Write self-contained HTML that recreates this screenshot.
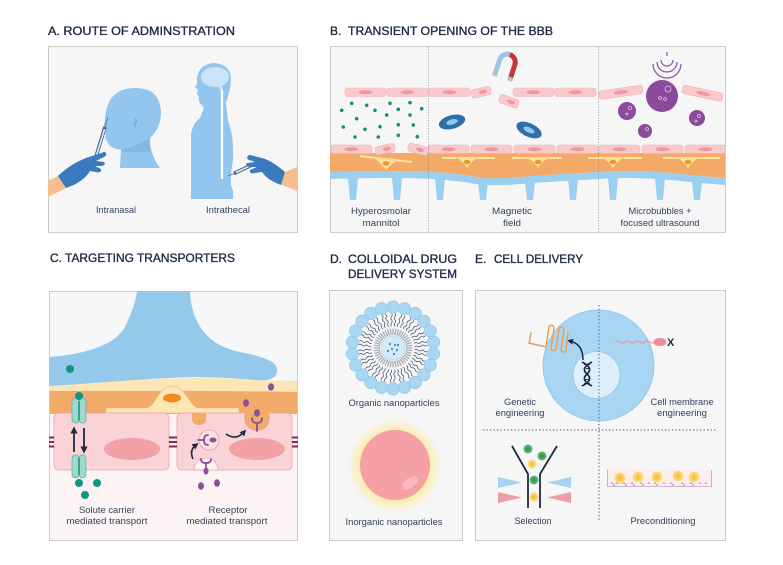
<!DOCTYPE html>
<html><head><meta charset="utf-8"><style>
html,body{margin:0;padding:0;background:#fff;}
svg{display:block;}
text{font-family:"Liberation Sans",Arial,sans-serif;}
.t{font-size:12px;fill:#1E2A44;stroke:#1E2A44;stroke-width:0.35;}
.l{font-size:9.5px;fill:#33415C;text-anchor:middle;}
</style></head><body>
<svg width="783" height="565" viewBox="0 0 783 565" xmlns="http://www.w3.org/2000/svg">
<defs>
<clipPath id="cA"><rect x="48" y="46" width="250" height="187"/></clipPath>
<clipPath id="cB"><rect x="330" y="46" width="396" height="187"/></clipPath>
<clipPath id="cC"><rect x="49" y="291" width="249" height="250"/></clipPath>
<clipPath id="cE"><rect x="475" y="290" width="251" height="251"/></clipPath>
<g id="cell"><rect x="0" y="0" width="41" height="8.5" rx="2.5" fill="#F8CACC" stroke="#F0B2B5" stroke-width="0.6"/><ellipse cx="20.5" cy="4.25" rx="7" ry="2" fill="#EE979D"/></g>
<g id="cellS"><rect x="0" y="0" width="20" height="8.5" rx="2.5" fill="#F8CACC" stroke="#F0B2B5" stroke-width="0.6"/><ellipse cx="12" cy="4.25" rx="4" ry="2" fill="#EE979D"/></g>
<marker id="ah" viewBox="0 0 10 10" refX="5" refY="5" markerWidth="4" markerHeight="4" orient="auto"><path d="M0,0 L10,5 L0,10 Z" fill="#1E2A44"/></marker>
<radialGradient id="glow" cx="0.5" cy="0.5" r="0.5"><stop offset="0.7" stop-color="#FBEBA0"/><stop offset="1" stop-color="#FBEBA0" stop-opacity="0"/></radialGradient>
<radialGradient id="ylw" cx="0.5" cy="0.5" r="0.5"><stop offset="0" stop-color="#F5B63A"/><stop offset="0.6" stop-color="#FBD25E"/><stop offset="1" stop-color="#FCE08A"/></radialGradient>
<radialGradient id="grn" cx="0.5" cy="0.5" r="0.5"><stop offset="0" stop-color="#2E8E4E"/><stop offset="1" stop-color="#5FBF7A"/></radialGradient>
<g id="bead"><circle cx="393" cy="307" r="6.2" fill="#A9D7F1" stroke="#8CC3E3" stroke-width="0.6"/></g>
<g id="tails" fill="none" stroke="#3A4A68" stroke-width="0.7"><path d="M391.5,313.5 q1.4,1.6 0,3.2 q-1.4,1.6 0,3.2 q1.4,1.6 0,3.2 q-1.4,1.6 0,3.2"/><path d="M395,313.5 q1.4,1.6 0,3.2 q-1.4,1.6 0,3.2 q1.4,1.6 0,3.2 q-1.4,1.6 0,3.2"/></g>
<g id="gray"><line x1="393" y1="328.5" x2="393" y2="335" stroke="#A8AEB8" stroke-width="1.3"/></g>
</defs>

<rect width="783" height="565" fill="#fff"/>

<!-- Titles -->
<text class="t" x="48" y="35" textLength="187" lengthAdjust="spacingAndGlyphs">A. ROUTE OF ADMINSTRATION</text>
<text class="t" x="330" y="35">B.</text>
<text class="t" x="348" y="35" textLength="205" lengthAdjust="spacingAndGlyphs">TRANSIENT OPENING OF THE BBB</text>
<text class="t" x="50" y="262" textLength="185" lengthAdjust="spacingAndGlyphs">C. TARGETING TRANSPORTERS</text>
<text class="t" x="330" y="263">D.</text>
<text class="t" x="348" y="263" textLength="109" lengthAdjust="spacingAndGlyphs">COLLOIDAL DRUG</text>
<text class="t" x="348" y="278" textLength="109" lengthAdjust="spacingAndGlyphs">DELIVERY SYSTEM</text>
<text class="t" x="475" y="263">E.</text>
<text class="t" x="494" y="263" textLength="89" lengthAdjust="spacingAndGlyphs">CELL DELIVERY</text>

<!-- ============ PANEL A ============ -->
<rect x="48.5" y="46.5" width="249" height="186" fill="#F6F6F7" stroke="#CBCBCB"/>
<g clip-path="url(#cA)">
<path d="M120,168 L121,150 Q115,149 110,146 L107,141 L105,138 L106,134 L102,130 L104,125 L105,118 Q106,108 110,100 Q118,88 135,88 Q160,88 161,112 Q161,128 150,138 Q150,155 160,168 Z" fill="#93C6EE"/>
<path d="M121,150 Q135,147 149,138 Q149,146 151,152 Q136,152 121,152 Z" fill="#80B8E6"/>
<path d="M135,119 q3,2 0,4 q-2,2 1,4" fill="none" stroke="#6AA6DA" stroke-width="1.2"/>
<path d="M233,199 L191,199 L191,135 Q192,124 200,118 L204,108 L200,103 Q198,100 199,97 L197,94 L198,90 L195,87 L197,84 L197,78 Q199,64 214,63 Q231,64 231,80 Q230,92 226,103 L228,121 Q234,135 233,160 Q230,178 231,185 Q234,192 233,199 Z" fill="#93C6EE"/>
<ellipse cx="215" cy="77" rx="14" ry="10" fill="#C9E4F8"/>
<path d="M218,84 Q222,88 222,94" fill="none" stroke="#C9E4F8" stroke-width="3"/>
<line x1="222" y1="90" x2="222" y2="179" stroke="#fff" stroke-width="2.2"/>
<line x1="105" y1="127" x2="108" y2="117" stroke="#5A6E8C" stroke-width="0.8"/>
<line x1="105" y1="127" x2="95" y2="160" stroke="#3D5E8A" stroke-width="3.6"/>
<line x1="104.6" y1="129" x2="96" y2="157" stroke="#D8E6F2" stroke-width="1.8"/>
<path d="M48,181 L58,176 L66,188 L48,197 Z" fill="#F4BF8D"/>
<path d="M58,176 C66,168 78,160 92,156 L104,152 C107,152 107,156 104,157 L96,161 L104,162 C106,164 104,166 101,166 L95,166 L101,169 C102,172 99,173 96,172 L90,171 C86,178 78,184 66,188 Z" fill="#3A7BBE"/>
<line x1="228" y1="176" x2="234" y2="173.5" stroke="#5A6E8C" stroke-width="0.8"/>
<line x1="234" y1="173.5" x2="256" y2="163" stroke="#3D5E8A" stroke-width="3.6"/>
<line x1="236" y1="172.6" x2="254" y2="164" stroke="#D8E6F2" stroke-width="1.8"/>
<path d="M285,172 L297,167 L297,191 L280,184 Z" fill="#F4BF8D"/>
<path d="M285,172 C278,166 270,160 262,158 L250,155 C247,155 246,159 249,160 L256,162 L247,163 C245,165 247,167 250,167 L257,167 L250,170 C249,173 252,174 255,173 L262,172 C266,178 273,182 281,185 Z" fill="#3A7BBE"/>
</g>
<text class="l" x="116" y="213" textLength="40" lengthAdjust="spacingAndGlyphs">Intranasal</text>
<text class="l" x="228" y="213" textLength="44" lengthAdjust="spacingAndGlyphs">Intrathecal</text>

<!-- ============ PANEL B ============ -->
<rect x="330.5" y="46.5" width="395" height="186" fill="#F6F6F7" stroke="#CBCBCB"/>
<g clip-path="url(#cB)">
<use href="#cell" x="345" y="88"/>
<use href="#cell" x="387" y="88"/>
<use href="#cell" x="429" y="88"/>
<g transform="rotate(-14 481 92)"><use href="#cellS" x="471" y="88"/></g>
<g transform="rotate(20 509 101)"><use href="#cellS" x="499" y="97"/></g>
<use href="#cell" x="513" y="88"/>
<use href="#cell" x="555" y="88"/>
<g transform="rotate(-8 621 92)"><rect x="599" y="88" width="44" height="8.5" rx="2.5" fill="#F8CACC" stroke="#F0B2B5" stroke-width="0.6"/><ellipse cx="621" cy="92.25" rx="7" ry="2" fill="#EE979D"/></g>
<g transform="rotate(12 702 93)"><rect x="682" y="89" width="41" height="8.5" rx="2.5" fill="#F8CACC" stroke="#F0B2B5" stroke-width="0.6"/><ellipse cx="703" cy="93.25" rx="7" ry="2" fill="#EE979D"/></g>
<g transform="rotate(18 506 66)" fill="none" stroke-width="5">
<path d="M498,78 V62 A8,8 0 0 1 506,54" stroke="#9EC5E6"/>
<path d="M506,54 A8,8 0 0 1 514,62 V78" stroke="#C7372F"/>
<line x1="498" y1="75" x2="498" y2="79" stroke="#B9BEC4"/>
<line x1="514" y1="75" x2="514" y2="79" stroke="#B9BEC4"/>
</g>
<g fill="#138F7A">
<circle cx="351.7" cy="103.3" r="1.8"/><circle cx="366.7" cy="105.3" r="1.8"/><circle cx="390" cy="103.3" r="1.8"/><circle cx="410" cy="102.7" r="1.8"/>
<circle cx="341.7" cy="110.3" r="1.8"/><circle cx="375" cy="110.3" r="1.8"/><circle cx="398.3" cy="109.3" r="1.8"/><circle cx="421.7" cy="108.7" r="1.8"/>
<circle cx="356.7" cy="118.7" r="1.8"/><circle cx="386.7" cy="115" r="1.8"/><circle cx="410" cy="115" r="1.8"/>
<circle cx="343.3" cy="127" r="1.8"/><circle cx="365" cy="129.3" r="1.8"/><circle cx="380" cy="126.7" r="1.8"/><circle cx="398.3" cy="124.7" r="1.8"/><circle cx="413.3" cy="125" r="1.8"/>
<circle cx="355" cy="137" r="1.8"/><circle cx="378.3" cy="137" r="1.8"/><circle cx="398.3" cy="135.3" r="1.8"/><circle cx="417.3" cy="136.7" r="1.8"/>
</g>
<g transform="rotate(-15 452 122)"><ellipse cx="452" cy="122" rx="13.5" ry="6.8" fill="#2F6FA8"/><ellipse cx="452" cy="122" rx="6" ry="2.6" fill="#8EC8EE"/></g>
<g transform="rotate(25 529 130)"><ellipse cx="529" cy="130" rx="13.5" ry="6.8" fill="#2F6FA8"/><ellipse cx="529" cy="130" rx="6" ry="2.6" fill="#8EC8EE"/></g>
<g fill="none" stroke="#8E4FA0" stroke-width="1.2">
<line x1="667" y1="52" x2="667" y2="56"/>
<path d="M661,60 A6,6 0 0 0 673,60"/>
<path d="M657,62 A10,10 0 0 0 677,62"/>
<path d="M653,64 A14,14 0 0 0 681,64"/>
</g>
<g fill="#8B4A9C">
<circle cx="662" cy="96" r="16"/><circle cx="627" cy="111" r="9"/><circle cx="645" cy="131" r="7"/><circle cx="697" cy="118" r="8"/>
</g>
<g fill="none" stroke="#E6D3EC" stroke-width="0.7">
<circle cx="668" cy="89" r="3"/><circle cx="660" cy="98" r="1.4"/><circle cx="665" cy="99" r="1.4"/>
<circle cx="630" cy="108" r="1.8"/><circle cx="627" cy="114" r="1"/><circle cx="647" cy="129" r="1.5"/><circle cx="699" cy="116" r="1.6"/><circle cx="696" cy="121" r="1"/>
</g>
<path d="M330,153 H725 V178 Q700,176 660,172 Q620,170 600,172 Q560,174 520,177 Q490,180 470,176 Q440,171 400,171 Q360,171 330,172 Z" fill="#F2AA66"/>
<path d="M330,172 Q360,171 400,171 Q440,171 470,176 Q490,180 520,177 Q560,174 600,172 Q620,170 660,172 Q700,176 725,178 V185 Q700,183 660,179 Q620,177 600,179 Q560,181 520,184 Q490,187 470,183 Q440,178 400,178 Q360,178 330,179 Z" fill="#9BCFEF"/>
<g fill="#9BCFEF">
<path d="M348,178 L350,200 L356,200 L358,178 Z"/>
<path d="M392,178 L394,200 L400,200 L402,178 Z"/>
<path d="M435,178 L437,200 L443,200 L445,178 Z"/>
<path d="M478,181 L480,200 L486,200 L488,181 Z"/>
<path d="M525,182 L527,200 L533,200 L535,182 Z"/>
<path d="M568,179 L570,200 L576,200 L578,179 Z"/>
<path d="M608,177 L610,200 L616,200 L618,177 Z"/>
<path d="M655,178 L657,200 L663,200 L665,178 Z"/>
<path d="M692,181 L694,200 L700,200 L702,181 Z"/>
</g>
<use href="#cell" x="331" y="145"/>
<g transform="rotate(-12 385 149)"><use href="#cellS" x="375" y="145"/></g>
<g transform="rotate(15 418 149)"><use href="#cellS" x="408" y="145"/></g>
<use href="#cell" x="428" y="145"/>
<use href="#cell" x="471" y="145"/>
<use href="#cell" x="514" y="145"/>
<use href="#cell" x="557" y="145"/>
<use href="#cell" x="599" y="145"/>
<use href="#cell" x="642" y="145"/>
<use href="#cell" x="685" y="145"/>
<g fill="#FBE2A6" stroke="#EEC77E" stroke-width="0.5">
<path d="M360,156 L412,162" fill="none" stroke="#FBE2A6" stroke-width="2"/>
<path d="M374,158 Q386,158 397,161 Q391,164 386,170 Q381,163 374,158 Z"/>
<line x1="442" y1="158" x2="495" y2="158" stroke="#FBE2A6" stroke-width="2"/>
<path d="M456,158 Q467,158 478,158 Q471,161 467,168 Q463,161 456,158 Z"/>
<line x1="512" y1="158" x2="562" y2="158" stroke="#FBE2A6" stroke-width="2"/>
<path d="M527,158 Q538,158 549,158 Q542,161 538,168 Q534,161 527,158 Z"/>
<line x1="588" y1="158" x2="642" y2="158" stroke="#FBE2A6" stroke-width="2"/>
<path d="M602,158 Q613,158 624,158 Q617,161 613,168 Q609,161 602,158 Z"/>
<line x1="663" y1="158" x2="720" y2="158" stroke="#FBE2A6" stroke-width="2"/>
<path d="M677,158 Q688,158 699,158 Q692,161 688,168 Q684,161 677,158 Z"/>
</g>
<g fill="#EE9A2B">
<ellipse cx="386" cy="163.5" rx="3.5" ry="2.2"/><ellipse cx="467" cy="162" rx="3.5" ry="2.2"/><ellipse cx="538" cy="162" rx="3.5" ry="2.2"/><ellipse cx="613" cy="162" rx="3.5" ry="2.2"/><ellipse cx="688" cy="162" rx="3.5" ry="2.2"/>
</g>
</g>
<line x1="428.5" y1="47" x2="428.5" y2="232" stroke="#8A8A8A" stroke-width="0.7" stroke-dasharray="1.2 1.5"/>
<line x1="598.5" y1="47" x2="598.5" y2="232" stroke="#8A8A8A" stroke-width="0.7" stroke-dasharray="1.2 1.5"/>
<text class="l" x="381" y="214" textLength="60" lengthAdjust="spacingAndGlyphs">Hyperosmolar</text>
<text class="l" x="381" y="226" textLength="37" lengthAdjust="spacingAndGlyphs">mannitol</text>
<text class="l" x="512" y="214" textLength="40" lengthAdjust="spacingAndGlyphs">Magnetic</text>
<text class="l" x="512" y="226" textLength="18" lengthAdjust="spacingAndGlyphs">field</text>
<text class="l" x="660" y="214" textLength="63" lengthAdjust="spacingAndGlyphs">Microbubbles +</text>
<text class="l" x="660" y="226" textLength="79" lengthAdjust="spacingAndGlyphs">focused ultrasound</text>

<!-- ============ PANEL C ============ -->
<rect x="49.5" y="291.5" width="248" height="249" fill="#F6F7F8" stroke="#CBCBCB"/>
<g clip-path="url(#cC)">
<rect x="50" y="412" width="247" height="128" fill="#FCF4F4"/>
<rect x="50" y="386" width="247" height="28" fill="#F2AB68"/>
<path d="M49,383 C120,380 200,376 240,379 C262,381 278,380 297,381 V392 C250,391 150,391 49,391 Z" fill="#FCE6B5"/>
<path d="M137,291 H190 C191,320 205,345 240,352 C265,357 279,362 277,372 C275,380 266,381 255,380 C230,378 200,376 170,378 C140,379 100,383 49,386 V357 C90,354 118,343 126,325 C132,312 136,300 137,291 Z" fill="#94C9EC"/>
<path d="M106,408 H146 C155,408 158,386 172,386 C186,386 190,408 199,408 H239 V413 H106 Z" fill="#FCE6B5" stroke="#EFB070" stroke-width="0.6"/>
<ellipse cx="172" cy="398" rx="9" ry="4.5" fill="#EE8A1E"/>
<rect x="54" y="413" width="115" height="57" rx="5" fill="#F9D3D5" stroke="#EDA3A8" stroke-width="0.8"/>
<rect x="177" y="413" width="115" height="57" rx="5" fill="#F9D3D5" stroke="#EDA3A8" stroke-width="0.8"/>
<ellipse cx="132" cy="449" rx="28" ry="11" fill="#F2A2A7"/>
<ellipse cx="257" cy="449" rx="28" ry="11" fill="#F2A2A7"/>
<g fill="#7A2A5C">
<rect x="49" y="436.5" width="5" height="2"/><rect x="49" y="441" width="5" height="2"/><rect x="49" y="445.5" width="5" height="2"/>
<rect x="169" y="436.5" width="8" height="2"/><rect x="169" y="441" width="8" height="2"/><rect x="169" y="445.5" width="8" height="2"/>
<rect x="292" y="436.5" width="6" height="2"/><rect x="292" y="441" width="6" height="2"/><rect x="292" y="445.5" width="6" height="2"/>
</g>
<g fill="#9ED8CE" stroke="#56AE9F" stroke-width="0.7">
<rect x="72" y="398" width="7" height="25" rx="3.5"/><rect x="79" y="398" width="7" height="25" rx="3.5"/>
<rect x="72" y="455" width="7" height="23" rx="3.5"/><rect x="79" y="455" width="7" height="23" rx="3.5"/>
</g>
<line x1="79" y1="401" x2="79" y2="420" stroke="#1A8C7A" stroke-width="1.5"/>
<line x1="79" y1="458" x2="79" y2="475" stroke="#1A8C7A" stroke-width="1.5"/>
<line x1="74" y1="452" x2="74" y2="430" stroke="#1E2A44" stroke-width="1.8" marker-end="url(#ah)"/>
<line x1="84" y1="428" x2="84" y2="450" stroke="#1E2A44" stroke-width="1.8" marker-end="url(#ah)"/>
<g fill="#13967F">
<circle cx="70" cy="369" r="4"/><circle cx="79" cy="396" r="4"/><circle cx="79" cy="483" r="4"/><circle cx="97" cy="483" r="4"/><circle cx="85" cy="495" r="4"/>
</g>
<path d="M192,413 V420 a7,5 0 0 0 14,0 V413 Z" fill="#F2AB68"/>
<circle cx="257" cy="418" r="12.5" fill="#F2AB68" stroke="#EDA3A8" stroke-width="0.7"/>
<rect x="244" y="407" width="26" height="6" fill="#F2AB68"/>
<g stroke="#8A4F9E" stroke-width="1.8" fill="none" stroke-linecap="round">
<path d="M257,431 V423 M252,418 Q252,423 257,423 Q262,423 262,418"/>
</g>
<circle cx="209" cy="440" r="10" fill="#FBE3E4" stroke="#EAA0A6" stroke-width="0.8"/>
<g stroke="#8A4F9E" stroke-width="1.8" fill="none" stroke-linecap="round">
<path d="M198,440 H204 M208,435 Q204,435 204,440 Q204,445 208,445"/>
</g>
<path d="M194,470 A12,12 0 0 1 218,470 Z" fill="#FCF4F4" stroke="#EDA3A8" stroke-width="0.8"/>
<g stroke="#8A4F9E" stroke-width="1.8" fill="none" stroke-linecap="round">
<path d="M206,468 V463 M201,459 Q201,463 206,463 Q211,463 211,459"/>
</g>
<g fill="#8A4F9E">
<ellipse cx="213" cy="440" rx="3.5" ry="2.5"/>
<ellipse cx="206" cy="471" rx="2.5" ry="3.5"/>
<ellipse cx="257" cy="413" rx="3" ry="3.8"/>
<ellipse cx="246" cy="403" rx="3" ry="3.8"/>
<ellipse cx="271" cy="387" rx="3" ry="3.8"/>
<ellipse cx="201" cy="486" rx="3" ry="3.8"/>
<ellipse cx="217" cy="483" rx="3" ry="3.8"/>
</g>
<path d="M193,459 Q189,450 196,445" fill="none" stroke="#1E2A44" stroke-width="1.6" marker-end="url(#ah)"/>
<path d="M226,434 Q236,441 244,432" fill="none" stroke="#1E2A44" stroke-width="1.6" marker-end="url(#ah)"/>
</g>
<text class="l" x="107" y="513" textLength="56" lengthAdjust="spacingAndGlyphs">Solute carrier</text>
<text class="l" x="107" y="524" textLength="81" lengthAdjust="spacingAndGlyphs">mediated transport</text>
<text class="l" x="228" y="513" textLength="39" lengthAdjust="spacingAndGlyphs">Receptor</text>
<text class="l" x="227" y="524" textLength="81" lengthAdjust="spacingAndGlyphs">mediated transport</text>

<!-- ============ PANEL D ============ -->
<rect x="329.5" y="290.5" width="133" height="250" fill="#F6F6F7" stroke="#CBCBCB"/>
<g>
<use href="#tails"/><use href="#tails" transform="rotate(16.36 393 348)"/><use href="#tails" transform="rotate(32.73 393 348)"/><use href="#tails" transform="rotate(49.09 393 348)"/><use href="#tails" transform="rotate(65.45 393 348)"/><use href="#tails" transform="rotate(81.82 393 348)"/><use href="#tails" transform="rotate(98.18 393 348)"/><use href="#tails" transform="rotate(114.55 393 348)"/><use href="#tails" transform="rotate(130.91 393 348)"/><use href="#tails" transform="rotate(147.27 393 348)"/><use href="#tails" transform="rotate(163.64 393 348)"/><use href="#tails" transform="rotate(180 393 348)"/><use href="#tails" transform="rotate(196.36 393 348)"/><use href="#tails" transform="rotate(212.73 393 348)"/><use href="#tails" transform="rotate(229.09 393 348)"/><use href="#tails" transform="rotate(245.45 393 348)"/><use href="#tails" transform="rotate(261.82 393 348)"/><use href="#tails" transform="rotate(278.18 393 348)"/><use href="#tails" transform="rotate(294.55 393 348)"/><use href="#tails" transform="rotate(310.91 393 348)"/><use href="#tails" transform="rotate(327.27 393 348)"/><use href="#tails" transform="rotate(343.64 393 348)"/>
</g>
<g>
<use href="#bead"/><use href="#bead" transform="rotate(16.36 393 348)"/><use href="#bead" transform="rotate(32.73 393 348)"/><use href="#bead" transform="rotate(49.09 393 348)"/><use href="#bead" transform="rotate(65.45 393 348)"/><use href="#bead" transform="rotate(81.82 393 348)"/><use href="#bead" transform="rotate(98.18 393 348)"/><use href="#bead" transform="rotate(114.55 393 348)"/><use href="#bead" transform="rotate(130.91 393 348)"/><use href="#bead" transform="rotate(147.27 393 348)"/><use href="#bead" transform="rotate(163.64 393 348)"/><use href="#bead" transform="rotate(180 393 348)"/><use href="#bead" transform="rotate(196.36 393 348)"/><use href="#bead" transform="rotate(212.73 393 348)"/><use href="#bead" transform="rotate(229.09 393 348)"/><use href="#bead" transform="rotate(245.45 393 348)"/><use href="#bead" transform="rotate(261.82 393 348)"/><use href="#bead" transform="rotate(278.18 393 348)"/><use href="#bead" transform="rotate(294.55 393 348)"/><use href="#bead" transform="rotate(310.91 393 348)"/><use href="#bead" transform="rotate(327.27 393 348)"/><use href="#bead" transform="rotate(343.64 393 348)"/>
</g>
<g>
<use href="#gray"/><use href="#gray" transform="rotate(16.36 393 348)"/><use href="#gray" transform="rotate(32.73 393 348)"/><use href="#gray" transform="rotate(49.09 393 348)"/><use href="#gray" transform="rotate(65.45 393 348)"/><use href="#gray" transform="rotate(81.82 393 348)"/><use href="#gray" transform="rotate(98.18 393 348)"/><use href="#gray" transform="rotate(114.55 393 348)"/><use href="#gray" transform="rotate(130.91 393 348)"/><use href="#gray" transform="rotate(147.27 393 348)"/><use href="#gray" transform="rotate(163.64 393 348)"/><use href="#gray" transform="rotate(180 393 348)"/><use href="#gray" transform="rotate(196.36 393 348)"/><use href="#gray" transform="rotate(212.73 393 348)"/><use href="#gray" transform="rotate(229.09 393 348)"/><use href="#gray" transform="rotate(245.45 393 348)"/><use href="#gray" transform="rotate(261.82 393 348)"/><use href="#gray" transform="rotate(278.18 393 348)"/><use href="#gray" transform="rotate(294.55 393 348)"/><use href="#gray" transform="rotate(310.91 393 348)"/><use href="#gray" transform="rotate(327.27 393 348)"/><use href="#gray" transform="rotate(343.64 393 348)"/>
<use href="#gray" transform="rotate(8.18 393 348)"/><use href="#gray" transform="rotate(24.55 393 348)"/><use href="#gray" transform="rotate(40.91 393 348)"/><use href="#gray" transform="rotate(57.27 393 348)"/><use href="#gray" transform="rotate(73.64 393 348)"/><use href="#gray" transform="rotate(90 393 348)"/><use href="#gray" transform="rotate(106.36 393 348)"/><use href="#gray" transform="rotate(122.73 393 348)"/><use href="#gray" transform="rotate(139.09 393 348)"/><use href="#gray" transform="rotate(155.45 393 348)"/><use href="#gray" transform="rotate(171.82 393 348)"/><use href="#gray" transform="rotate(188.18 393 348)"/><use href="#gray" transform="rotate(204.55 393 348)"/><use href="#gray" transform="rotate(220.91 393 348)"/><use href="#gray" transform="rotate(237.27 393 348)"/><use href="#gray" transform="rotate(253.64 393 348)"/><use href="#gray" transform="rotate(270 393 348)"/><use href="#gray" transform="rotate(286.36 393 348)"/><use href="#gray" transform="rotate(302.73 393 348)"/><use href="#gray" transform="rotate(319.09 393 348)"/><use href="#gray" transform="rotate(335.45 393 348)"/><use href="#gray" transform="rotate(351.82 393 348)"/>
</g>
<circle cx="393" cy="348" r="12" fill="#D2EAF7" stroke="#A9D4EE" stroke-width="0.6"/>
<g fill="#2F73B5">
<ellipse cx="390" cy="344" rx="0.9" ry="1.3"/><ellipse cx="395" cy="345" rx="0.9" ry="1.3"/><ellipse cx="392" cy="349" rx="0.9" ry="1.3"/><ellipse cx="397" cy="350" rx="0.9" ry="1.3"/><ellipse cx="388" cy="351" rx="0.9" ry="1.3"/><ellipse cx="394" cy="354" rx="0.9" ry="1.3"/><ellipse cx="398" cy="345" rx="0.9" ry="1.3"/>
</g>
<text class="l" x="394" y="406" textLength="91" lengthAdjust="spacingAndGlyphs">Organic nanoparticles</text>
<circle cx="395" cy="466" r="47" fill="url(#glow)"/>
<circle cx="395" cy="465" r="35" fill="#F4A0A5"/>
<ellipse cx="410" cy="483" rx="9" ry="5" transform="rotate(-35 410 483)" fill="#F7BABD"/>
<text class="l" x="394" y="525" textLength="97" lengthAdjust="spacingAndGlyphs">Inorganic nanoparticles</text>

<!-- ============ PANEL E ============ -->
<rect x="475.5" y="290.5" width="250" height="250" fill="#F6F6F7" stroke="#CBCBCB"/>
<g clip-path="url(#cE)">
<circle cx="598.5" cy="365.5" r="55.5" fill="#A8D5F2" stroke="#8FC3E6" stroke-width="0.8"/>
<circle cx="596.5" cy="375" r="23.5" fill="#DCEFFA" stroke="#8FC3E6" stroke-width="0.8"/>
<g fill="none" stroke="#1E2A44" stroke-width="1.7">
<path d="M582,362 Q594,368 587,374 Q580,380 592,386"/>
<path d="M592,362 Q580,368 587,374 Q594,380 582,386"/>
</g>
<g stroke="#1E2A44" stroke-width="0.9">
<line x1="584" y1="364.5" x2="590" y2="364.5"/><line x1="586" y1="368.5" x2="589" y2="368.5"/><line x1="585" y1="379.5" x2="589" y2="379.5"/><line x1="584" y1="383.5" x2="590" y2="383.5"/>
</g>
<path d="M583,360 Q583,344 570,341" fill="none" stroke="#1E2A44" stroke-width="1.5" marker-end="url(#ah)"/>
<g fill="none" stroke="#E9A15A" stroke-width="1.5" stroke-linecap="round">
<path d="M531,333 L529,343 L546,347 L549,327 A2.6,2.6 0 0 1 554,328 L551,348 A2.6,2.6 0 0 0 556,349 L559,329 A2.6,2.6 0 0 1 564,330 L561,350 A2.6,2.6 0 0 0 566,350 L568,333"/>
</g>
<path d="M615,342 q2.5,-2 5,0 t5,0 t5,0 t5,0 t5,0 t5,0 t5,0 t5,0" fill="none" stroke="#EC8F96" stroke-width="1"/>
<ellipse cx="660" cy="342" rx="6.5" ry="4" fill="#EF8E95"/>
<text x="667" y="346" style="font-size:11px;font-weight:bold;fill:#1E2A44;">X</text>
<line x1="599" y1="305" x2="599" y2="521" stroke="#6E7480" stroke-width="1.3" stroke-dasharray="1.3 2.2"/>
<line x1="483" y1="430" x2="716" y2="430" stroke="#6E7480" stroke-width="1.3" stroke-dasharray="1.3 2.2"/>
<polygon points="498,477 522,482.5 498,488" fill="#A7D3F0"/>
<polygon points="571,477 547,482.5 571,488" fill="#A7D3F0"/>
<polygon points="498,492 522,497.5 498,503" fill="#EE9EA3"/>
<polygon points="571,492 547,497.5 571,503" fill="#EE9EA3"/>
<g fill="none" stroke="#1E2A44" stroke-width="1.8">
<path d="M512,446 L528,474 V508"/>
<path d="M557,446 L540,474 V508"/>
</g>
<circle cx="528" cy="449" r="4.5" fill="url(#grn)"/>
<circle cx="542" cy="456" r="4.5" fill="url(#grn)"/>
<circle cx="532" cy="464" r="4.5" fill="url(#ylw)"/>
<circle cx="534" cy="480" r="4.5" fill="url(#grn)"/>
<circle cx="534" cy="497" r="4.5" fill="url(#ylw)"/>
<rect x="607" y="470" width="105" height="16" fill="#FCEEEE"/>
<path d="M607.5,470 V486.5 H711.5 V470" fill="none" stroke="#B9A3C0" stroke-width="0.8"/>
<path d="M611,484 q1,-3 2,0 t2,0 M616,484 q1,-3 2,0 M623,484 q1,-3 2,0 t2,0 M631,484 q1,-3 2,0 t2,0 M640,484 q1,-3 2,0 t2,0 M648,484 q1,-3 2,0 M654,484 q1,-3 2,0 t2,0 M663,484 q1,-3 2,0 M670,484 q1,-3 2,0 t2,0 M681,484 q1,-3 2,0 t2,0 M690,484 q1,-3 2,0 t2,0 M699,484 q1,-3 2,0 M705,484 q1,-3 2,0" fill="none" stroke="#8C7AA8" stroke-width="0.6"/>
<circle cx="620" cy="478" r="5.5" fill="url(#ylw)"/>
<circle cx="638" cy="477" r="5.5" fill="url(#ylw)"/>
<circle cx="657" cy="477" r="5.5" fill="url(#ylw)"/>
<circle cx="678" cy="476" r="5.5" fill="url(#ylw)"/>
<circle cx="694" cy="477" r="5.5" fill="url(#ylw)"/>
</g>
<text class="l" x="520" y="405" textLength="32" lengthAdjust="spacingAndGlyphs">Genetic</text>
<text class="l" x="520" y="416" textLength="49" lengthAdjust="spacingAndGlyphs">engineering</text>
<text class="l" x="682" y="405" textLength="63" lengthAdjust="spacingAndGlyphs">Cell membrane</text>
<text class="l" x="682" y="416" textLength="50" lengthAdjust="spacingAndGlyphs">engineering</text>
<text class="l" x="533" y="524" textLength="37" lengthAdjust="spacingAndGlyphs">Selection</text>
<text class="l" x="663" y="524" textLength="65" lengthAdjust="spacingAndGlyphs">Preconditioning</text>
</svg>
</body></html>
